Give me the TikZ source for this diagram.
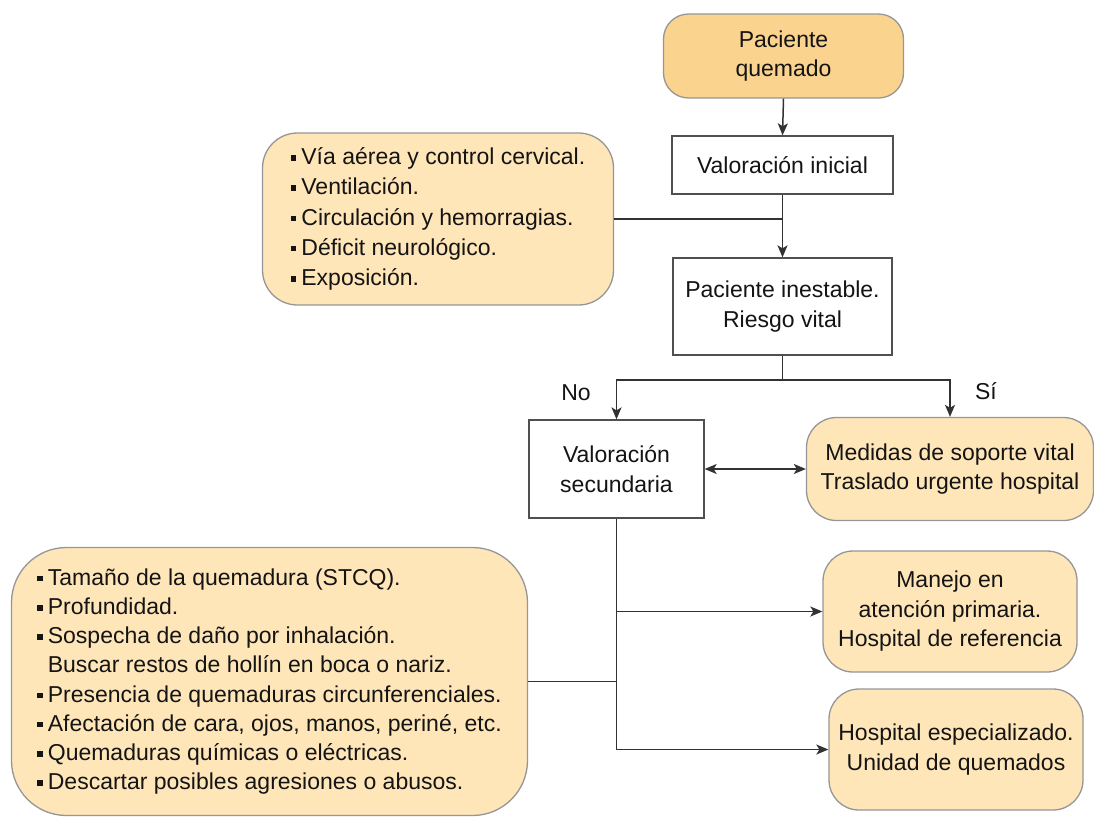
\documentclass[tikz,border=0pt]{standalone}
\usepackage{fontspec}
\setmainfont{Liberation Sans}
\usetikzlibrary{arrows.meta}
\definecolor{topfill}{RGB}{250,211,142}
\definecolor{lightfill}{RGB}{255,230,185}
\definecolor{softedge}{RGB}{150,150,150}
\definecolor{boxedge}{RGB}{80,80,80}
\definecolor{linecol}{RGB}{50,50,50}
\definecolor{txt}{RGB}{20,20,20}
\newcommand{\sqb}{\rule[0.17em]{0.24em}{0.24em}\hspace{0.22em}}
\tikzset{
  base/.style={inner sep=0pt, align=center, text=txt, font=\fontsize{23}{29.5}\selectfont},
  whitebox/.style={base, draw=boxedge, line width=1.3pt, fill=white},
  orangebox/.style={base, draw=softedge, line width=1.3pt, fill=lightfill},
  listbox/.style={orangebox, align=left},
  conn/.style={draw=linecol, line width=1.5pt},
  arr/.style={conn, -{Stealth[length=12pt,width=10pt,inset=3pt]}},
  darr/.style={conn, {Stealth[length=12pt,width=10pt,inset=3pt]}-{Stealth[length=12pt,width=10pt,inset=3pt]}},
  lbl/.style={base}
}
\begin{document}
\begin{tikzpicture}[x=1pt,y=-1pt]
\useasboundingbox (0,0) rectangle (1094,817);
\node[orangebox, fill=topfill, rounded corners=25pt, minimum width=240pt, minimum height=84pt] (top) at (783.5,56) {Paciente\\quemado};
\node[whitebox, minimum width=221pt, minimum height=58pt] (vi) at (782.5,165) {Valoración inicial};
\node[listbox, rounded corners=35pt, minimum width=351pt, minimum height=172pt, font=\fontsize{23}{30.2}\selectfont] (box1) at (438,219)
  {\sqb Vía aérea y control cervical.\\ \sqb Ventilación.\\ \sqb Circulación y hemorragias.\\ \sqb Déficit neurológico.\\ \sqb Exposición.};
\node[whitebox, minimum width=219pt, minimum height=97pt] (pi) at (782.5,306.5) {Paciente inestable.\\Riesgo vital};
\node[whitebox, minimum width=175pt, minimum height=98pt] (vs) at (616.5,469) {Valoración\\secundaria};
\node[orangebox, rounded corners=30pt, minimum width=287pt, minimum height=103pt] (med) at (950,469) {Medidas de soporte vital\\Traslado urgente hospital};
\node[listbox, rounded corners=55pt, minimum width=516pt, minimum height=268pt, font=\fontsize{23}{29.2}\selectfont] (box2) at (269.5,681.5)
  {\sqb Tamaño de la quemadura (STCQ).\\ \sqb Profundidad.\\ \sqb Sospecha de daño por inhalación.\\ \phantom{\sqb}Buscar restos de hollín en boca o nariz.\\ \sqb Presencia de quemaduras circunferenciales.\\ \sqb Afectación de cara, ojos, manos, periné, etc.\\ \sqb Quemaduras químicas o eléctricas.\\ \sqb Descartar posibles agresiones o abusos.};
\node[orangebox, rounded corners=30pt, minimum width=254pt, minimum height=121pt] (man) at (950,611.5) {Manejo en\\atención primaria.\\Hospital de referencia};
\node[orangebox, rounded corners=30pt, minimum width=254pt, minimum height=121pt] (hos) at (956,749.5) {Hospital especializado.\\Unidad de quemados};
\node[lbl] (no) at (576,393) {No};
\node[lbl] (si) at (986,391) {Sí};
\coordinate (split) at (782.5,380);
% connectors
\draw[arr] (top.south) -- (vi.north);
\draw[arr] (vi.south) -- (pi.north);
\draw[conn] (box1.east) -- (box1.east -| vi.south);
\draw[conn] (pi.south) -- (split);
\draw[arr] (split) -| (vs.north);
\draw[arr] (split) -| (med.north);
\draw[darr] (vs.east) -- (med.west);
\draw[conn] (vs.south) -- (vs.south |- hos.west);
\draw[arr] (vs.south |- man.west) -- (man.west);
\draw[arr] (vs.south |- hos.west) -- (hos.west);
\draw[conn] (box2.east) -- (box2.east -| vs.south);
\end{tikzpicture}
\end{document}
